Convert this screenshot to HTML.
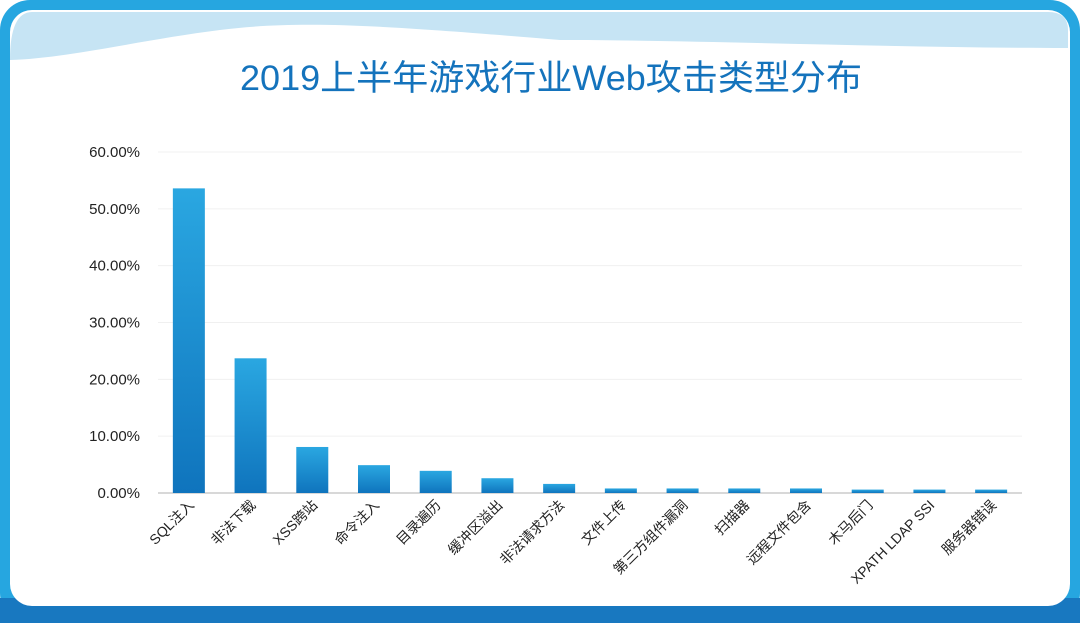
<!DOCTYPE html>
<html><head><meta charset="utf-8"><style>
body{margin:0;width:1080px;height:623px;overflow:hidden;background:#fff;font-family:"Liberation Sans","Noto Sans CJK SC",sans-serif}
</style></head><body>
<svg width="1080" height="623" viewBox="0 0 1080 623">
<defs>
<linearGradient id="bg" x1="0" y1="0" x2="0" y2="1"><stop offset="0" stop-color="#2aa7e1"/><stop offset="1" stop-color="#0f74bd"/></linearGradient>
</defs>
<rect x="0" y="0" width="1080" height="623" rx="30" fill="#26a6e0"/>
<rect x="0" y="598" width="1080" height="25" fill="#1878c0"/>
<rect x="10" y="10" width="1060" height="596" rx="22" fill="#ffffff"/>
<path d="M10,60 Q10,12 32,12 L1048,12 Q1068,12 1068,30 L1068,48 C900,48 700,40 560,40 C380,25 300,20 220,30 C140,40 70,58 10,60 Z" fill="#c6e4f4"/>
<text x="551" y="90" text-anchor="middle" font-size="35" fill="#1473bc" textLength="622" lengthAdjust="spacingAndGlyphs">2019上半年游戏行业Web攻击类型分布</text>
<g id="grid"></g><g id="bars"></g><g id="labels"></g>
</svg>
<script>
const categories=["SQL注入","非法下载","XSS跨站","命令注入","目录遍历","缓冲区溢出","非法请求方法","文件上传","第三方组件漏洞","扫描器","远程文件包含","木马后门","XPATH LDAP SSI","服务器错误"];
const values=[53.6,23.7,8.1,4.9,3.9,2.6,1.6,0.8,0.8,0.8,0.8,0.6,0.6,0.6];
const ticks=[0,10,20,30,40,50,60];
const tickLabels=["0.00%","10.00%","20.00%","30.00%","40.00%","50.00%","60.00%"];
const NS="http://www.w3.org/2000/svg";
const x0=158,x1=1022,y0=493,y60=152;
const y=v=>y0-(v/60)*(y0-y60);
const bw=(x1-x0)/categories.length;
const xc=i=>x0+bw*(i+0.5);
const grid=document.getElementById('grid'),bars=document.getElementById('bars'),labels=document.getElementById('labels');
ticks.forEach((t,i)=>{
 const l=document.createElementNS(NS,'line');
 
 
 l.setAttribute('x1',x0);l.setAttribute('x2',x1);l.setAttribute('y1',y(t));l.setAttribute('y2',y(t));
 l.setAttribute('stroke',t===0?'#d8d8d8':'#f0f0f0');l.setAttribute('stroke-width',t===0?2:1);
 grid.appendChild(l);
 const tx=document.createElementNS(NS,'text');
 
 
 tx.setAttribute('x',140);tx.setAttribute('y',y(t)+5);tx.setAttribute('text-anchor','end');
 tx.setAttribute('font-size','15');tx.setAttribute('fill','#222');
 tx.textContent=tickLabels[i];grid.appendChild(tx);
});
values.forEach((v,i)=>{
 const r=document.createElementNS(NS,'rect');
 
 
 r.setAttribute('x',xc(i)-16);r.setAttribute('width',32);
 r.setAttribute('y',y(v));r.setAttribute('height',y0-y(v));
 r.setAttribute('fill','url(#bg)');bars.appendChild(r);
 const t=document.createElementNS(NS,'text');
 
 
 const lx=xc(i)+6,ly=506;
 t.setAttribute('x',lx);t.setAttribute('y',ly);t.setAttribute('text-anchor','end');
 t.setAttribute('transform','rotate(-45 '+lx+' '+ly+')');
 t.setAttribute('font-size','14');t.setAttribute('fill','#222');
 t.textContent=categories[i];labels.appendChild(t);
});
</script>
</body></html>
